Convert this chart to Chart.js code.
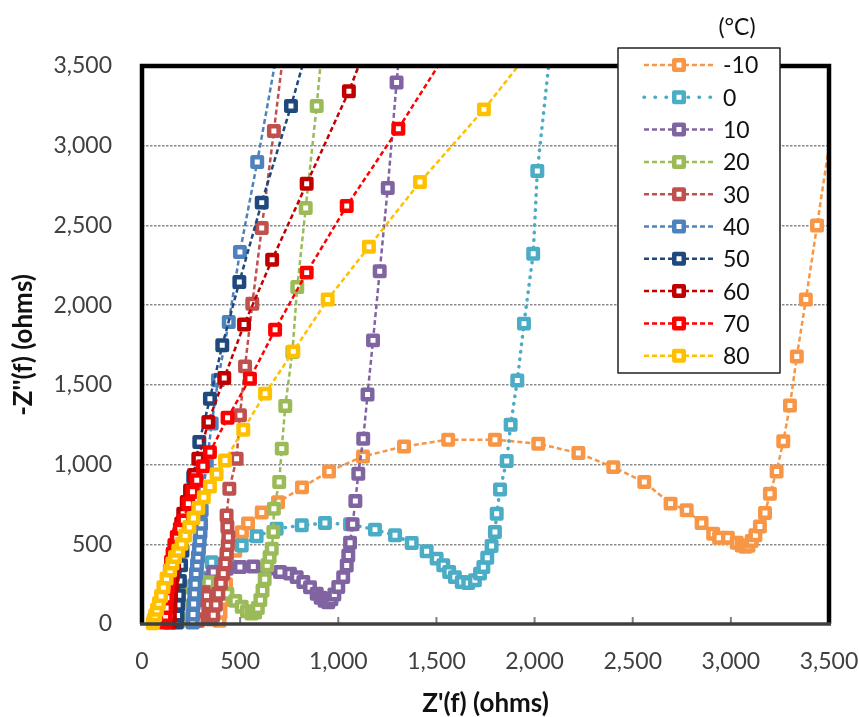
<!DOCTYPE html>
<html>
<head>
<meta charset="utf-8">
<script src="https://cdn.jsdelivr.net/npm/chart.js@4.4.0/dist/chart.umd.min.js"></script>
<style>
  html, body { margin: 0; padding: 0; background: #fff; }
  #wrap { width: 859px; height: 717px; }
</style>
</head>
<body>
<div id="wrap"><canvas id="nyquist" width="859" height="717"></canvas></div>
<script>
// temperatures (°C), one series each
const temperatures = ['-10', '0', '10', '20', '30', '40', '50', '60', '70', '80'];
const seriesColors = ['#F79646', '#4BACC6', '#8064A2', '#9BBB59', '#C0504D',
                      '#4F81BD', '#1F497D', '#C00000', '#FF0000', '#FFC000'];
const axisTicks = [0, 500, 1000, 1500, 2000, 2500, 3000, 3500];

// [Z', -Z''] in ohms, high frequency first
const ptsM10 = [[395,20],[400,70],[412,150],[428,250],[448,360],[475,460],[509,575],[540,631],[610,700],[693,763],[815,857],[953,957],[1126,1051],[1335,1114],[1560,1156],[1798,1156],[2019,1131],[2223,1072],[2401,984],[2559,890],[2693,755],[2775,713],[2851,633],[2910,566],[2940,541],[2985,541],[3030,510],[3055,493],[3075,484],[3090,490],[3106,520],[3125,556],[3148,612],[3174,696],[3199,817],[3233,957],[3267,1146],[3301,1371],[3336,1678],[3382,2035],[3439,2499],[3530,3240]];
const pts0 = [[278,25],[284,100],[296,190],[318,290],[355,388],[431,420],[508,493],[584,550],[686,598],[814,619],[932,633],[1060,625],[1187,592],[1289,556],[1374,508],[1450,457],[1501,410],[1535,368],[1565,326],[1594,294],[1629,263],[1662,257],[1696,274],[1722,316],[1739,357],[1759,416],[1781,489],[1798,577],[1807,692],[1824,843],[1858,1022],[1878,1250],[1912,1528],[1946,1884],[1993,2323],[2014,2841],[2080,3600]];
const pts10 = [[270,20],[274,80],[281,150],[293,220],[321,274],[363,326],[431,347],[499,357],[567,361],[635,347],[703,326],[754,316],[788,294],[822,263],[856,231],[890,190],[910,165],[930,145],[949,137],[965,155],[980,185],[1000,232],[1025,294],[1043,367],[1051,430],[1060,510],[1073,625],[1087,771],[1102,943],[1127,1162],[1149,1440],[1177,1779],[1211,2212],[1252,2735],[1297,3396],[1312,3600]];
const pts20 = [[200,20],[208,90],[222,170],[248,235],[288,268],[338,262],[388,232],[435,190],[475,145],[508,108],[535,80],[558,66],[576,72],[590,100],[603,150],[614,210],[625,280],[638,368],[650,420],[661,472],[669,577],[672,723],[699,890],[712,1100],[730,1367],[766,1706],[791,2114],[834,2609],[890,3249],[916,3600]];
const pts30 = [[285,20],[290,90],[299,160],[314,200],[329,175],[340,120],[347,65],[354,30],[363,55],[376,120],[389,190],[402,255],[414,316],[424,380],[431,441],[437,495],[440,545],[435,610],[431,681],[445,849],[482,1037],[499,1309],[525,1616],[562,2009],[610,2484],[672,3092],[722,3600]];
const pts40 = [[258,10],[260,60],[263,125],[267,190],[271,250],[275,316],[280,370],[285,420],[290,470],[294,524],[298,575],[301,629],[304,713],[312,838],[330,1006],[355,1257],[387,1529],[442,1894],[499,2333],[587,2898],[690,3600]];
const pts50 = [[178,10],[181,54],[184,120],[188,180],[193,270],[199,368],[206,460],[214,556],[224,650],[234,744],[247,830],[261,922],[292,1141],[346,1413],[409,1748],[496,2145],[610,2643],[759,3249],[840,3600]];
const pts60 = [[140,10],[142,54],[145,120],[148,180],[152,245],[157,305],[163,375],[170,441],[178,500],[190,566],[200,630],[210,692],[228,765],[245,838],[265,935],[287,1037],[338,1267],[419,1543],[520,1878],[663,2285],[839,2762],[1054,3341],[1135,3600]];
const pts70 = [[118,10],[120,50],[123,100],[127,165],[132,231],[137,285],[142,336],[148,390],[156,441],[165,495],[177,545],[193,598],[211,650],[236,755],[257,830],[279,901],[310,990],[346,1078],[436,1293],[550,1539],[678,1846],[839,2204],[1043,2622],[1306,3107],[1560,3600]];
const pts80 = [[55,5],[60,25],[67,55],[76,90],[86,130],[97,175],[109,231],[125,285],[143,336],[155,380],[168,420],[185,460],[202,504],[220,555],[241,608],[262,665],[287,727],[315,795],[346,863],[380,940],[423,1026],[516,1219],[627,1445],[771,1710],[946,2036],[1156,2366],[1416,2772],[1742,3228],[1980,3600]];

const allSeries = [ptsM10, pts0, pts10, pts20, pts30, pts40, pts50, pts60, pts70, pts80];

const DASH = [5, 3];
const DOTS = [0.5, 7];

const datasets = allSeries.map((pts, i) => ({
    label: temperatures[i],
    data: pts.map(p => ({ x: p[0], y: p[1] })),
    showLine: true,
    borderColor: seriesColors[i],
    borderWidth: i === 1 ? 3.5 : 2.5,
    borderDash: i === 1 ? DOTS : DASH,
    borderCapStyle: i === 1 ? 'round' : 'butt',
    tension: 0,
    pointStyle: 'rect',
    pointRadius: ctx => (ctx.raw && (ctx.raw.x > 3500 || ctx.raw.y > 3500)) ? 0 : 6.7,
    pointBorderWidth: 4.5,
    pointBorderColor: seriesColors[i],
    pointBackgroundColor: '#ffffff',
    clip: { left: 10, top: 0, right: 0, bottom: 10 },
    order: 10 - i
}));

const frameAndLegend = {
    id: 'frameAndLegend',
    beforeDatasetsDraw(chart) {
        chart.ctx.lineJoin = 'round';
    },
    afterDatasetsDraw(chart) {
        const { ctx, chartArea: a, scales: { x } } = chart;
        ctx.save();
        ctx.lineJoin = 'miter';
        ctx.setLineDash([]);
        // short inward ticks on the bottom axis
        ctx.strokeStyle = '#7f7f7f';
        ctx.lineWidth = 2;
        axisTicks.forEach(v => {
            if (v <= 0 || v >= 3500) return;
            const px = x.getPixelForValue(v);
            ctx.beginPath();
            ctx.moveTo(px, a.bottom);
            ctx.lineTo(px, a.bottom - 7);
            ctx.stroke();
        });
        // plot frame
        ctx.strokeStyle = '#000';
        ctx.lineWidth = 4.5;
        ctx.beginPath();
        ctx.moveTo(a.left, a.bottom);
        ctx.lineTo(a.left, a.top);
        ctx.lineTo(a.right, a.top);
        ctx.lineTo(a.right, a.bottom);
        ctx.stroke();
        ctx.strokeStyle = '#404040';
        ctx.lineWidth = 3.5;
        ctx.beginPath();
        ctx.moveTo(a.left - 2, a.bottom);
        ctx.lineTo(a.right + 2, a.bottom);
        ctx.stroke();
        ctx.restore();
    },
    afterDraw(chart) {
        const ctx = chart.ctx;
        const boxL = 618, boxT = 48, boxR = 780, boxB = 373;
        ctx.save();
        ctx.fillStyle = '#fff';
        ctx.fillRect(boxL, boxT, boxR - boxL, boxB - boxT);
        ctx.strokeStyle = '#222';
        ctx.lineWidth = 1.5;
        ctx.strokeRect(boxL, boxT, boxR - boxL, boxB - boxT);

        ctx.font = '23px Lato';
        ctx.fillStyle = '#111';
        ctx.textBaseline = 'middle';
        ctx.textAlign = 'center';
        ctx.fillText('(°C)', 737, 28);

        ctx.textAlign = 'left';
        temperatures.forEach((t, i) => {
            const y = 65 + i * 32.3;
            const dotted = i === 1;
            ctx.strokeStyle = seriesColors[i];
            ctx.lineWidth = dotted ? 3.5 : 2.5;
            ctx.lineCap = dotted ? 'round' : 'butt';
            ctx.setLineDash(dotted ? [0.5, 10.5] : DASH);
            ctx.beginPath();
            ctx.moveTo(644, y);
            ctx.lineTo(715, y);
            ctx.stroke();
            ctx.setLineDash([]);
            ctx.lineJoin = 'round';
            ctx.lineWidth = 4.5;
            ctx.fillStyle = '#fff';
            ctx.fillRect(679 - 4.75, y - 4.75, 9.5, 9.5);
            ctx.strokeRect(679 - 4.75, y - 4.75, 9.5, 9.5);
            ctx.fillStyle = '#111';
            ctx.fillText(t, 723, y + 1);
        });
        ctx.restore();
    }
};

Chart.defaults.font.family = 'Lato';

new Chart(document.getElementById('nyquist'), {
    type: 'scatter',
    data: { datasets: datasets },
    options: {
        responsive: false,
        animation: false,
        layout: { padding: { top: 66, right: 30, bottom: 0, left: 0 } },
        plugins: {
            legend: { display: false },
            tooltip: { enabled: false }
        },
        scales: {
            x: {
                type: 'linear',
                min: 0,
                max: 3500,
                afterFit: scale => {
                    scale.height = 93;
                    scale.paddingLeft = 0;
                    scale.paddingRight = 0;
                },
                afterBuildTicks: scale => { scale.ticks = axisTicks.map(v => ({ value: v })); },
                ticks: { font: { size: 23 }, color: '#404040', padding: 24 },
                grid: { display: false, drawTicks: false },
                border: { display: false },
                title: {
                    display: true,
                    text: "Z'(f) (ohms)",
                    font: { size: 26, weight: 'bold', lineHeight: 1.0 },
                    color: '#111',
                    padding: { top: 0, bottom: 0 }
                }
            },
            y: {
                type: 'linear',
                min: 0,
                max: 3500,
                afterFit: scale => { scale.width = 142; },
                afterBuildTicks: scale => { scale.ticks = axisTicks.map(v => ({ value: v })); },
                ticks: { font: { size: 23 }, color: '#404040', padding: 30 },
                grid: {
                    drawTicks: false,
                    lineWidth: 1.5,
                    color: ctx => (ctx.tick && (ctx.tick.value === 0 || ctx.tick.value === 3500)) ? 'rgba(0,0,0,0)' : '#8a8a8a'
                },
                border: { display: false, dash: [2.5, 1.5] },
                title: {
                    display: true,
                    text: "-Z''(f) (ohms)",
                    font: { size: 26, weight: 'bold' },
                    color: '#111',
                    padding: { top: 8, bottom: 0 }
                }
            }
        }
    },
    plugins: [frameAndLegend]
});
</script>
</body>
</html>
